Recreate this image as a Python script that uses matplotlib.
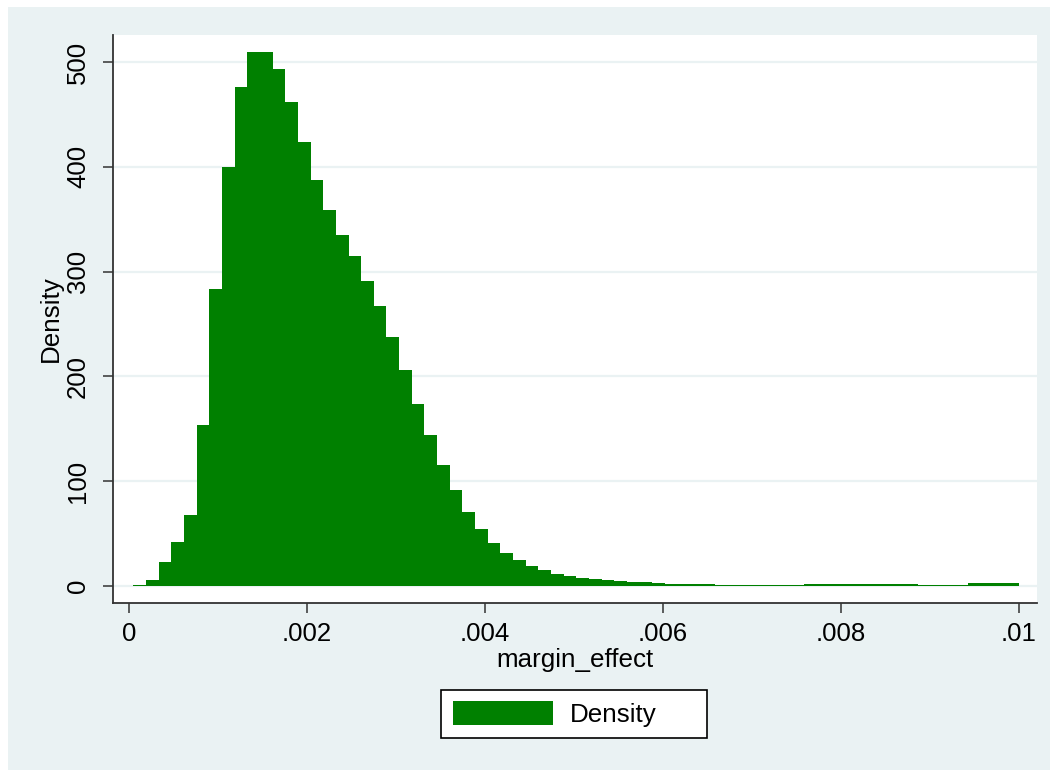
import numpy as np
import matplotlib
matplotlib.use("Agg")
import matplotlib.pyplot as plt
from matplotlib.patches import Rectangle

plt.rcParams["font.family"] = ["Liberation Sans", "DejaVu Sans"]

GREEN = "#008000"
LTBLUISH = "#eaf2f3"

# histogram: 70 bins from 0.00005 to 0.01, density values
bin_lo, bin_hi, n_bins = 0.00005, 0.01, 70
density = [
    1.0, 5.7, 23, 42, 67.7, 153.6, 283, 400, 476, 509.5,
    509.5, 493, 462, 423.7, 387, 358.8, 335, 315, 291, 267,
    237.6, 206, 173.7, 144, 115.5, 91.6, 70.6, 54.4, 41, 31.5,
    24.8, 19, 15.3, 11.5, 9.5, 7.6, 6.7, 5.7, 4.8, 3.8,
    3.5, 2.7, 2.2, 1.7, 1.6, 1.6, 0.6, 0.6, 0.6, 0.6,
    0.6, 0.6, 0.6, 1.9, 1.9, 1.9, 1.9, 1.9, 1.9, 1.9,
    1.9, 1.9, 1.3, 1.3, 1.3, 1.3, 2.9, 2.9, 2.9, 2.9,
]
yticks = [0, 100, 200, 300, 400, 500]
xticks = [0, 0.002, 0.004, 0.006, 0.008, 0.01]
xticklabels = ["0", ".002", ".004", ".006", ".008", ".01"]

W, H = 1050, 770
fig = plt.figure(figsize=(W / 100, H / 100), dpi=100, facecolor="white")
# Stata-like graph region (light bluish grey) with thin white border top/left
fig.patches.append(Rectangle((8 / W, 0), 1, 1 - 7 / H, transform=fig.transFigure,
                             facecolor=LTBLUISH, edgecolor="none", zorder=-10))

ax = fig.add_axes([113 / W, 1 - 603 / H, (1037 - 113) / W, (603 - 35) / H])
ax.set_facecolor("white")

edges = np.linspace(bin_lo, bin_hi, n_bins + 1)
ax.bar(edges[:-1], density, width=np.diff(edges), align="edge",
       color=GREEN, linewidth=0, zorder=3, label="Density")

ax.set_xlim(-0.00018, 0.010202)
ax.set_ylim(-16.2, 525.8)
ax.set_yticks(yticks)
ax.set_xticks(xticks)
ax.set_xticklabels(xticklabels)
for y in yticks:
    ax.axhline(y, color=LTBLUISH, linewidth=1.6, zorder=1)

for s in ["top", "right"]:
    ax.spines[s].set_visible(False)
for s in ["left", "bottom"]:
    ax.spines[s].set_color("#333333")
    ax.spines[s].set_linewidth(1.3)

ax.tick_params(axis="both", labelsize=18.5, length=7.2, width=1.1, color="#333333")
ax.tick_params(axis="y", pad=9.4)
ax.tick_params(axis="x", pad=6.5)
for lab in ax.get_yticklabels():
    lab.set_rotation(90)
    lab.set_va("center")

ax.set_ylabel("Density", fontsize=18.7)
ax.yaxis.set_label_coords(-0.054, 0.5)
ax.set_xlabel("margin_effect", fontsize=18.7)
ax.xaxis.set_label_coords(0.5, -0.079)

# legend below the plot
fig.patches.append(Rectangle((441 / W, 1 - 738 / H), (707 - 441) / W, 48 / H,
                             transform=fig.transFigure, facecolor="white",
                             edgecolor="black", linewidth=1.2, zorder=-5))
fig.legend(loc="center left", bbox_to_anchor=(453 / W, 1 - 714 / H), frameon=False,
           fontsize=18.7, handlelength=3.85, handleheight=1.04,
           handletextpad=0.65, borderpad=0.0, borderaxespad=0.0)

fig.savefig("out.png", dpi=100, facecolor="white")
